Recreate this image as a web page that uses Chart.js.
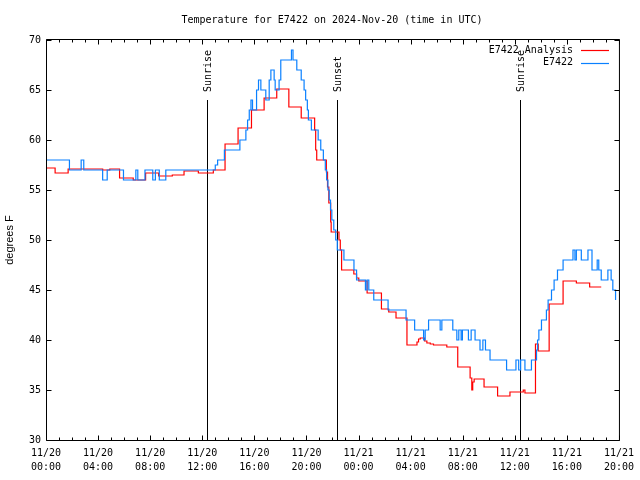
<!DOCTYPE html>
<html>
<head>
<meta charset="utf-8">
<script src="https://cdn.jsdelivr.net/npm/chart.js@4"></script>
<style>
  html, body { margin: 0; padding: 0; background: #fff; }
</style>
</head>
<body>
<canvas id="myChart" width="640" height="480"></canvas>
<script>
// data: hours since 11/20 00:00 UTC, each point starts a new step level

const stationHours = [
  0, 1.8, 2.7, 2.9, 4.35, 4.7, 5.95, 6.9, 7.05, 7.6, 8.2, 8.4, 8.7, 9.2,
  13.0, 13.18, 13.7, 14.89, 15.35, 15.48, 15.61, 15.74, 15.86, 16.17, 16.32,
  16.5, 16.88, 17.14, 17.27, 17.52, 17.6, 17.9, 18.03, 18.85, 18.97, 19.26,
  19.6, 19.82, 19.94, 20.07, 20.15, 20.38, 20.9, 21.1, 21.3, 21.45, 21.55,
  21.65, 21.75, 21.85, 21.95, 22.1, 22.25, 22.37, 22.88, 23.65, 23.85, 24.53,
  24.65, 24.79, 25.17, 26.27, 27.65, 28.31, 29.0, 29.12, 29.38, 30.27, 30.4,
  31.24, 31.55, 31.7, 31.88, 31.98, 32.44, 32.65, 32.95, 33.33, 33.55, 33.75,
  34.1, 35.37, 36.09, 36.3, 36.45, 36.78, 37.28, 37.67, 37.75, 37.85, 38.05,
  38.43, 38.56, 38.82, 39.02, 39.28, 39.71, 40.47, 40.62, 40.73, 41.11, 41.62,
  41.93, 42.33, 42.45, 42.64, 43.15, 43.4, 43.53, 43.74,
];
const stationTemps = [
  58, 57, 58, 57, 56, 57, 56, 57, 56, 57, 56, 57, 56, 57,
  57.5, 58, 59, 60, 61, 62, 63, 64, 63, 65, 66,
  65, 64, 66, 67, 66, 65, 66, 68, 69, 68, 67,
  66, 65, 64, 63, 62, 61, 60, 59, 58, 57, 56,
  55, 54, 53, 52, 51, 50, 49, 48, 47, 46, 45,
  46, 45, 44, 43, 42, 41, 40, 41, 42, 41, 42,
  41, 40, 41, 40, 41, 40, 41, 40, 39, 40, 39,
  38, 37, 38, 37, 38, 37, 38, 39, 40, 41, 42,
  43, 44, 45, 46, 47, 48, 49, 48, 49, 48, 49,
  47, 48, 47, 46, 47, 46, 45, 44,
];

const analysisHours = [
  0, 0.7, 1.7, 4.35, 4.9, 5.65, 6.7, 7.65, 8.65, 9.7, 10.6, 11.7, 12.85,
  13.75, 14.75, 15.78, 16.75, 17.72, 18.65, 19.6, 20.63, 20.71, 20.79,
  21.53, 21.62, 21.72, 21.86, 21.9, 22.5, 22.6, 22.7, 23.64, 23.85, 24.02,
  24.66, 25.76, 26.32, 26.88, 27.72, 28.49, 28.61, 28.74, 29.07, 29.25,
  29.51, 29.76, 30.78, 31.62, 32.57, 32.7, 32.77, 32.88, 33.64, 34.68,
  35.63, 36.65, 36.78, 37.59, 37.8, 38.64, 39.71, 40.73, 41.75, 42.64,
];
const analysisTemps = [
  57.2, 56.7, 57.1, 57.0, 57.1, 56.2, 56.0, 56.7, 56.4, 56.5, 56.9, 56.7, 57.0,
  59.6, 61.2, 63.0, 64.2, 65.1, 63.3, 62.2, 61.0, 59.0, 58.0,
  56.8, 55.3, 53.7, 51.8, 50.8, 50.0, 49.0, 47.0, 46.6, 46.2, 45.9,
  44.7, 43.1, 42.8, 42.2, 39.5, 39.8, 40.1, 40.2, 39.9, 39.7,
  39.6, 39.5, 39.3, 37.3, 36.2, 35.0, 35.8, 36.1, 35.3, 34.4,
  34.8, 35.0, 34.7, 39.6, 38.9, 43.6, 45.9, 45.7, 45.3, 45.3,
];

// sunrise / sunset markers
const eventHours = [12.35, 22.37, 36.37];
const eventLabels = ['Sunrise', 'Sunset', 'Sunrise'];

// x tick labels, one per 4 hours
const xTickLabels = [
  ['11/20', '00:00'], ['11/20', '04:00'], ['11/20', '08:00'], ['11/20', '12:00'],
  ['11/20', '16:00'], ['11/20', '20:00'], ['11/21', '00:00'], ['11/21', '04:00'],
  ['11/21', '08:00'], ['11/21', '12:00'], ['11/21', '16:00'], ['11/21', '20:00'],
];

const chartTitle = 'Temperature for E7422 on 2024-Nov-20 (time in UTC)';

const MONO = 'DejaVu Sans Mono';

const data = {
  datasets: [
    {
      label: 'E7422 Analysis',
      data: analysisHours.map((h, i) => ({ x: h, y: analysisTemps[i] })),
      borderColor: '#ff0000',
      backgroundColor: '#ff0000',
      borderWidth: 1.2,
      pointRadius: 0,
      stepped: true,
      order: 1,
    },
    {
      label: 'E7422',
      data: stationHours.map((h, i) => ({ x: h, y: stationTemps[i] })),
      borderColor: '#0a80ff',
      backgroundColor: '#0a80ff',
      borderWidth: 1.2,
      pointRadius: 0,
      stepped: true,
      order: 0,
    },
  ]
};

// box, inward ticks on all four sides
const framePlugin = {
  id: 'frame',
  afterDatasetsDraw(chart) {
    const { ctx, chartArea: a, scales: { x, y } } = chart;
    const L = a.left + 0.5, R = a.right + 0.5, T = a.top - 0.5, B = a.bottom + 0.5;
    ctx.save();
    ctx.strokeStyle = '#000';
    ctx.lineWidth = 1;
    ctx.beginPath();
    ctx.rect(L, T, R - L, B - T);
    for (let h = 0; h <= 44; h++) {
      const px = Math.round(x.getPixelForValue(h)) + 0.5;
      const len = h % 4 === 0 ? 5 : 3;
      ctx.moveTo(px, B); ctx.lineTo(px, B - len);
      ctx.moveTo(px, T); ctx.lineTo(px, T + len);
    }
    for (let v = 30; v <= 70; v += 5) {
      const py = Math.round(y.getPixelForValue(v)) + 0.5;
      ctx.moveTo(L, py); ctx.lineTo(L + 5, py);
      ctx.moveTo(R, py); ctx.lineTo(R - 5, py);
    }
    ctx.stroke();
    ctx.restore();
  }
};

// vertical sunrise/sunset lines with rotated labels
const eventsPlugin = {
  id: 'events',
  beforeDatasetsDraw(chart) {
    const { ctx, chartArea: a, scales: { x, y } } = chart;
    const top = y.getPixelForValue(64);
    ctx.save();
    ctx.strokeStyle = '#000';
    ctx.fillStyle = '#000';
    ctx.lineWidth = 1;
    ctx.font = '10px "' + MONO + '"';
    eventHours.forEach((h, i) => {
      const px = Math.round(x.getPixelForValue(h)) + 0.5;
      ctx.beginPath();
      ctx.moveTo(px, top);
      ctx.lineTo(px, a.bottom);
      ctx.stroke();
      ctx.save();
      ctx.translate(px + 1, top - 8);
      ctx.rotate(-Math.PI / 2);
      ctx.textAlign = 'left';
      ctx.textBaseline = 'middle';
      ctx.fillText(eventLabels[i], 0, 0);
      ctx.restore();
    });
    ctx.restore();
  }
};

// title and gnuplot style key
const textPlugin = {
  id: 'texts',
  afterDraw(chart) {
    const { ctx } = chart;
    ctx.save();
    ctx.font = '10px "' + MONO + '"';
    ctx.fillStyle = '#000';
    ctx.textAlign = 'center';
    ctx.textBaseline = 'middle';
    ctx.fillText(chartTitle, 332, 20);
    ctx.textAlign = 'right';
    chart.data.datasets.forEach((ds, i) => {
      const yy = 50 + i * 12.5;
      ctx.fillStyle = '#000';
      ctx.fillText(ds.label, 573, yy);
      ctx.strokeStyle = ds.borderColor;
      ctx.lineWidth = 1.2;
      ctx.beginPath();
      ctx.moveTo(581, Math.round(yy) + 0.5);
      ctx.lineTo(609, Math.round(yy) + 0.5);
      ctx.stroke();
    });
    ctx.restore();
  }
};

const config = {
  type: 'line',
  data: data,
  options: {
    responsive: false,
    animation: false,
    devicePixelRatio: 1,
    layout: {
      padding: { left: 0, right: 19, top: 40, bottom: 0 }
    },
    plugins: {
      legend: { display: false },
      tooltip: { enabled: false },
      title: { display: false },
    },
    scales: {
      x: {
        type: 'linear',
        min: 0,
        max: 44,
        grid: { display: false, drawTicks: false },
        border: { display: false },
        ticks: {
          stepSize: 4,
          autoSkip: false,
          maxRotation: 0,
          padding: 6,
          color: '#000',
          font: { family: MONO, size: 10, lineHeight: 1.4 },
          callback: (value) => xTickLabels[value / 4],
        },
        afterFit(scale) { scale.height = 40; },
      },
      y: {
        type: 'linear',
        min: 30,
        max: 70,
        grid: { display: false, drawTicks: false },
        border: { display: false },
        ticks: {
          stepSize: 5,
          padding: 5,
          color: '#000',
          font: { family: MONO, size: 10 },
        },
        title: {
          display: true,
          text: 'degrees F',
          color: '#000',
          font: { family: 'Liberation Sans', size: 11 },
          padding: { top: 3, bottom: 0 },
        },
        afterFit(scale) { scale.width = 46; },
      },
    }
  },
  plugins: [eventsPlugin, framePlugin, textPlugin],
};

// render the chart

var myChart = new Chart(
  document.getElementById('myChart'),
  config
);
</script>
</body>
</html>
